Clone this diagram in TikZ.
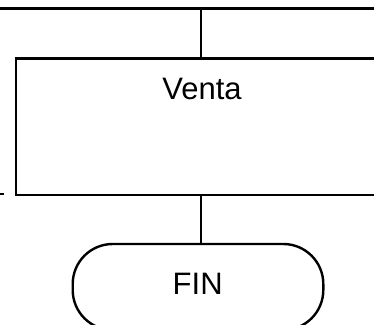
\documentclass[tikz,border=0pt]{standalone}
\usepackage{fontspec}
\setmainfont{Liberation Sans}
\begin{document}
\begin{tikzpicture}[x=1pt,y=-1pt,
  line/.style={line width=2.4pt,black},
  procbox/.style={draw,line width=2.4pt,rectangle,inner sep=0pt},
  termbox/.style={draw,line width=2.4pt,rectangle,rounded corners=40pt,inner sep=0pt},
  lbl/.style={font=\fontsize{31}{36}\selectfont,inner sep=0pt}]
\useasboundingbox (0,0) rectangle (374,324);
\clip (0,0) rectangle (374,324);
\node[procbox,minimum width=384pt,minimum height=136.5pt] (venta) at (208,126.75) {};
\node[lbl,anchor=base] (ventatxt) at (202,99) {Venta};
\node[termbox,minimum width=250.6pt,minimum height=86pt] (fin) at (198,287) {};
\node[lbl,anchor=base] (fintxt) at (197.7,294) {FIN};
\coordinate (tl) at (-10,8.5);
\coordinate (tr) at (384,8.5);
\coordinate (tj) at (200.7,8.5);
\coordinate (lt1) at (-10,194);
\coordinate (lt2) at (4,194);
\draw[line] (tl) -- (tr);
\draw[line] (tj) -- (tj |- venta.north);
\draw[line] (tj |- venta.south) -- (tj |- fin.north);
\draw[line] (lt1) -- (lt2);
\end{tikzpicture}
\end{document}
